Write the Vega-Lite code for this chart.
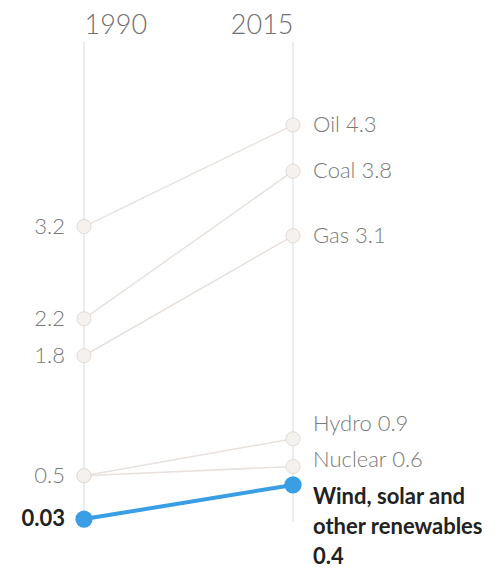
{
  "$schema": "https://vega.github.io/schema/vega-lite/v6.json",
  "width": 209,
  "height": 526,
  "autosize": {"type": "none"},
  "padding": {"left": 84, "top": 42, "right": 211, "bottom": 0},
  "background": "white",
  "config": {"view": {"stroke": null}, "font": "Lato"},
  "data": {
    "values": [
      {"source": "Oil", "year": 1990, "value": 3.2, "label": "3.2"},
      {"source": "Oil", "year": 2015, "value": 4.3, "label": "Oil 4.3"},
      {"source": "Coal", "year": 1990, "value": 2.2, "label": "2.2"},
      {"source": "Coal", "year": 2015, "value": 3.8, "label": "Coal 3.8"},
      {"source": "Gas", "year": 1990, "value": 1.8, "label": "1.8"},
      {"source": "Gas", "year": 2015, "value": 3.1, "label": "Gas 3.1"},
      {"source": "Hydro", "year": 1990, "value": 0.5, "label": "0.5"},
      {"source": "Hydro", "year": 2015, "value": 0.9, "label": "Hydro 0.9"},
      {"source": "Nuclear", "year": 1990, "value": 0.5, "label": "0.5"},
      {"source": "Nuclear", "year": 2015, "value": 0.6, "label": "Nuclear 0.6"},
      {"source": "Wind", "year": 1990, "value": 0.03, "label": "0.03"},
      {"source": "Wind", "year": 2015, "value": 0.4, "label": ["Wind, solar and", "other renewables", "0.4"]}
    ]
  },
  "encoding": {
    "x": {
      "field": "year",
      "type": "quantitative",
      "scale": {"domain": [1990, 2015], "nice": false, "zero": false},
      "axis": {
        "orient": "top",
        "values": [1990, 2015],
        "format": "d",
        "title": null,
        "ticks": false,
        "domain": false,
        "grid": false,
        "labelFont": "Lato",
        "labelFontSize": 27,
        "labelFontWeight": 300,
        "labelColor": "#707070",
        "labelPadding": 9,
        "labelBaseline": "alphabetic",
        "labelFlush": false,
        "labelAlign": {"condition": {"test": "datum.value == 1990", "value": "left"}, "value": "right"}
      }
    },
    "y": {
      "field": "value",
      "type": "quantitative",
      "scale": {"domain": [-0.5, 5.2], "nice": false, "zero": false},
      "axis": null
    }
  },
  "layer": [
    {
      "transform": [{"filter": "datum.source == 'Wind'"}],
      "mark": {"type": "rule", "color": "#d9d9d9", "strokeWidth": 1},
      "encoding": {"y": {"datum": 5.2, "type": "quantitative"}, "y2": {"datum": 0}}
    },
    {
      "transform": [{"filter": "datum.source != 'Wind'"}],
      "mark": {"type": "line", "color": "#e8e1dd", "strokeWidth": 1.5},
      "encoding": {"detail": {"field": "source"}}
    },
    {
      "transform": [{"filter": "datum.source == 'Wind'"}],
      "mark": {"type": "line", "color": "#3a9ee4", "strokeWidth": 4},
      "encoding": {"detail": {"field": "source"}}
    },
    {
      "transform": [{"filter": "datum.source != 'Wind'"}],
      "mark": {"type": "point", "shape": "circle", "filled": true, "fill": "#f5f1ee", "stroke": "#e2dbd6", "strokeWidth": 1, "size": 200, "opacity": 1}
    },
    {
      "transform": [{"filter": "datum.source == 'Wind'"}],
      "mark": {"type": "point", "shape": "circle", "filled": true, "color": "#3a9ee4", "size": 300, "opacity": 1}
    },
    {
      "transform": [{"filter": "datum.year == 1990 && datum.source != 'Nuclear' && datum.source != 'Wind'"}],
      "mark": {"type": "text", "align": "right", "baseline": "middle", "dx": -19, "fontSize": 22, "fontWeight": 300, "color": "#7a7a7a", "font": "Lato"},
      "encoding": {"text": {"field": "label"}}
    },
    {
      "transform": [{"filter": "datum.year == 1990 && datum.source == 'Wind'"}],
      "mark": {"type": "text", "align": "right", "baseline": "middle", "dx": -19, "fontSize": 22, "fontWeight": "bold", "color": "#222222", "font": "Lato"},
      "encoding": {"text": {"field": "label"}}
    },
    {
      "transform": [{"filter": "datum.year == 2015 && (datum.source == 'Oil' || datum.source == 'Coal' || datum.source == 'Gas')"}],
      "mark": {"type": "text", "align": "left", "baseline": "middle", "dx": 20, "fontSize": 22, "fontWeight": 300, "color": "#7a7a7a", "font": "Lato"},
      "encoding": {"text": {"field": "label"}}
    },
    {
      "transform": [{"filter": "datum.year == 2015 && datum.source == 'Hydro'"}],
      "mark": {"type": "text", "align": "left", "baseline": "middle", "dx": 20, "dy": -15, "fontSize": 22, "fontWeight": 300, "color": "#7a7a7a", "font": "Lato"},
      "encoding": {"text": {"field": "label"}}
    },
    {
      "transform": [{"filter": "datum.year == 2015 && datum.source == 'Nuclear'"}],
      "mark": {"type": "text", "align": "left", "baseline": "middle", "dx": 20, "dy": -6, "fontSize": 22, "fontWeight": 300, "color": "#7a7a7a", "font": "Lato"},
      "encoding": {"text": {"field": "label"}}
    },
    {
      "transform": [{"filter": "datum.year == 2015 && datum.source == 'Wind'"}],
      "mark": {"type": "text", "align": "left", "baseline": "top", "dx": 20, "dy": 2, "lineHeight": 30, "fontSize": 22, "fontWeight": "bold", "color": "#222222", "font": "Lato"},
      "encoding": {"text": {"field": "label"}}
    }
  ]
}
